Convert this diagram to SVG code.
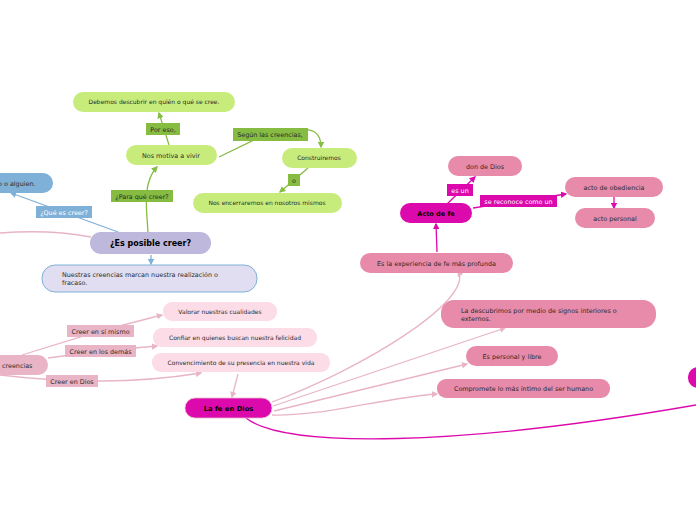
<svg xmlns="http://www.w3.org/2000/svg" width="696" height="520" viewBox="0 0 696 520">
<defs>
<marker id="ag" viewBox="0 0 10 10" refX="8" refY="5" markerWidth="5" markerHeight="5" orient="auto"><path d="M0,0 L10,5 L0,10 z" fill="#86bc42"/></marker>
<marker id="ab" viewBox="0 0 10 10" refX="8" refY="5" markerWidth="5" markerHeight="5" orient="auto"><path d="M0,0 L10,5 L0,10 z" fill="#7fb0d8"/></marker>
<marker id="ap" viewBox="0 0 10 10" refX="8" refY="5" markerWidth="5" markerHeight="5" orient="auto"><path d="M0,0 L10,5 L0,10 z" fill="#e8b4c6"/></marker>
<marker id="am" viewBox="0 0 10 10" refX="8" refY="5" markerWidth="5" markerHeight="5" orient="auto"><path d="M0,0 L10,5 L0,10 z" fill="#dc0aad"/></marker>
</defs>
<style>
text{font-family:"DejaVu Sans","Liberation Sans",sans-serif;fill:#2a2a2a}
.c{text-anchor:middle}
.s{font-size:6px}
.m{font-size:6.4px}
.b{font-weight:bold;fill:#000}
.gn{fill:#c8ec7c}
.gl{fill:#86bc42}
.bn{fill:#7fb0d8}
.pl{fill:#fcdce6}
.pm{fill:#e8b4c6}
.pk{fill:#e88aaa}
.mg{fill:#dc0aad}
.lg{fill:none;stroke:#86bc42;stroke-width:1.3}
.lb{fill:none;stroke:#7fb0d8;stroke-width:1.3}
.lp{fill:none;stroke:#e8b4c6;stroke-width:1.3}
.lm{fill:none;stroke:#dc0aad;stroke-width:1.3}
</style>
<rect width="696" height="520" fill="#fff"/>
<g id="connectors">
<path class="lg" d="M148,232 C146,205 143,182 157,167" marker-end="url(#ag)"/>
<path class="lg" d="M169,145 L159,113" marker-end="url(#ag)"/>
<path class="lg" d="M219,157 L258,138 M300,130 C316,128 321,136 321,147" marker-end="url(#ag)"/>
<path class="lg" d="M308,168 L280,192" marker-end="url(#ag)"/>
<path class="lb" d="M118,232 L11,193" marker-end="url(#ab)"/>
<path class="lb" d="M151,255 L151,264" marker-end="url(#ab)"/>
<path class="lp" d="M0,233 C40,230 70,233 91,237"/>
<path class="lp" d="M22,355 L100,331 L162,315" marker-end="url(#ap)"/>
<path class="lp" d="M48,358 L100,351 L157,346" marker-end="url(#ap)"/>
<path class="lp" d="M0,375 C40,380 70,381 100,381 C140,381 170,378 201,373" marker-end="url(#ap)"/>
<path class="lp" d="M238,374 L232,397" marker-end="url(#ap)"/>
<path class="lp" d="M272,402 C360,370 475,300 458,271" marker-end="url(#ap)"/>
<path class="lp" d="M273,406 L505,328" marker-end="url(#ap)"/>
<path class="lp" d="M274,411 L467,364" marker-end="url(#ap)"/>
<path class="lp" d="M272,415 C330,416 380,398 437,394" marker-end="url(#ap)"/>
<path class="lm" d="M246,418 C285,449 460,446 696,405"/>
<path class="lm" d="M437,252 L436,224" marker-end="url(#am)"/>
<path class="lm" d="M447,204 L475,177" marker-end="url(#am)"/>
<path class="lm" d="M473,208 L566,194" marker-end="url(#am)"/>
<path class="lm" d="M614,197 L614,208" marker-end="url(#am)"/>
</g>
<g id="n-debemos"><rect class="gn" x="73" y="92" width="162" height="20" rx="10"/><text class="c s" x="154" y="104">Debemos descubrir en quién o qué se cree.</text></g>
<g id="l-poreso"><rect class="gl" x="146" y="123" width="34" height="12"/><text class="c m" x="163" y="131.5">Por eso,</text></g>
<g id="n-motiva"><rect class="gn" x="126" y="145" width="91" height="20" rx="10"/><text class="c m" x="171" y="157.5">Nos motiva a vivir</text></g>
<g id="l-segun"><rect class="gl" x="233" y="128" width="75" height="13"/><text class="c m" x="270" y="137">Según las creencias,</text></g>
<g id="n-construiremos"><rect class="gn" x="282" y="148" width="75" height="20" rx="10"/><text class="c s" x="319" y="160">Construiremos</text></g>
<g id="l-o"><rect class="gl" x="288" y="174" width="12" height="12"/><text class="c m" x="294" y="182.5">o</text></g>
<g id="n-encerraremos"><rect class="gn" x="193" y="193" width="149" height="20" rx="10"/><text class="c s" x="267" y="205">Nos encerraremos en nosotros mismos</text></g>
<g id="l-paraque"><rect class="gl" x="111" y="190" width="62" height="12"/><text class="c m" x="142" y="198.5">¿Para qué creer?</text></g>
<g id="n-alguien"><rect class="bn" x="-30" y="173" width="83" height="20" rx="10"/><text class="m" x="-2" y="186">o o alguien.</text></g>
<g id="l-quees"><rect class="bn" x="36" y="206" width="56" height="12"/><text class="c m" x="64" y="214.5" style="fill:#fff">¿Qué es creer?</text></g>
<g id="n-esposible"><rect x="90" y="232" width="121" height="22" rx="11" fill="#bdb8dc"/><text class="c b" x="150.5" y="246" style="font-size:8px">¿Es posible creer?</text></g>
<g id="n-nuestras"><rect x="42" y="265" width="215" height="27" rx="13" fill="#e0def0" stroke="#7fb0d8" stroke-width="1"/><text class="m" x="62" y="276.5">Nuestras creencias marcan nuestra realización o</text><text class="m" x="62" y="285">fracaso.</text></g>
<g id="n-valorar"><rect class="pl" x="163" y="302" width="114" height="19" rx="9"/><text class="c s" x="220" y="314">Valorar nuestras cualidades</text></g>
<g id="n-confiar"><rect class="pl" x="153" y="328" width="164" height="19" rx="9"/><text class="c s" x="235" y="340">Confiar en quienes buscan nuestra felicidad</text></g>
<g id="n-convencimiento"><rect class="pl" x="152" y="353" width="178" height="19" rx="9"/><text class="c s" x="241" y="365">Convencimiento de su presencia en nuestra vida</text></g>
<g id="n-creencias"><rect class="pm" x="-40" y="355" width="88" height="20" rx="10"/><text class="m" x="2" y="367.5">creencias</text></g>
<g id="l-simismo"><rect class="pm" x="67" y="325" width="67" height="12"/><text class="c m" x="100.5" y="333.5">Creer en sí mismo</text></g>
<g id="l-demas"><rect class="pm" x="65" y="345" width="71" height="12"/><text class="c m" x="100.5" y="353.5">Creer en los demás</text></g>
<g id="l-dios"><rect class="pm" x="46" y="375" width="52" height="12"/><text class="c m" x="72" y="383.5">Creer en Dios</text></g>
<g id="n-lafe"><rect class="mg" x="185" y="398" width="87" height="20" rx="10" stroke="#e8b4c6" stroke-width="0.8"/><text class="c b" x="228.5" y="411" style="font-size:6.8px">La fe en Dios</text></g>
<g id="n-actofe"><rect class="mg" x="400" y="203" width="72" height="20" rx="10"/><text class="c b" x="436" y="216" style="font-size:6.5px">Acto de fe</text></g>
<g id="n-don"><rect class="pk" x="448" y="156" width="74" height="20" rx="10"/><text class="c m" x="485" y="168.5">don de Dios</text></g>
<g id="l-esun"><rect class="mg" x="447" y="184" width="26" height="12"/><text class="c m" x="460" y="192.5" style="fill:#fff">es un</text></g>
<g id="l-reconoce"><rect class="mg" x="480" y="195" width="77" height="12"/><text class="c m" x="518.5" y="203.5" style="fill:#fff">se reconoce como un</text></g>
<g id="n-obediencia"><rect class="pk" x="565" y="177" width="98" height="20" rx="10"/><text class="c m" x="614" y="189.5">acto de obediencia</text></g>
<g id="n-personal"><rect class="pk" x="575" y="208" width="80" height="20" rx="10"/><text class="c m" x="615" y="220.5">acto personal</text></g>
<g id="n-experiencia"><rect class="pk" x="360" y="253" width="153" height="20" rx="10"/><text class="c m" x="436.5" y="265.5">Es la experiencia de fe más profunda</text></g>
<g id="n-descubrimos"><rect class="pk" x="441" y="300" width="215" height="28" rx="13"/><text class="m" x="461" y="312.5">La descubrimos por medio de signos interiores o</text><text class="m" x="461" y="321">externos.</text></g>
<g id="n-libre"><rect class="pk" x="466" y="346" width="92" height="20" rx="10"/><text class="c m" x="512" y="358.5">Es personal y libre</text></g>
<g id="n-compromete"><rect class="pk" x="437" y="379" width="173" height="19" rx="9"/><text class="c m" x="523.5" y="391">Compromete lo más íntimo del ser humano</text></g>
<g id="n-right"><rect class="mg" x="688" y="367" width="40" height="21" rx="10"/></g>
</svg>
